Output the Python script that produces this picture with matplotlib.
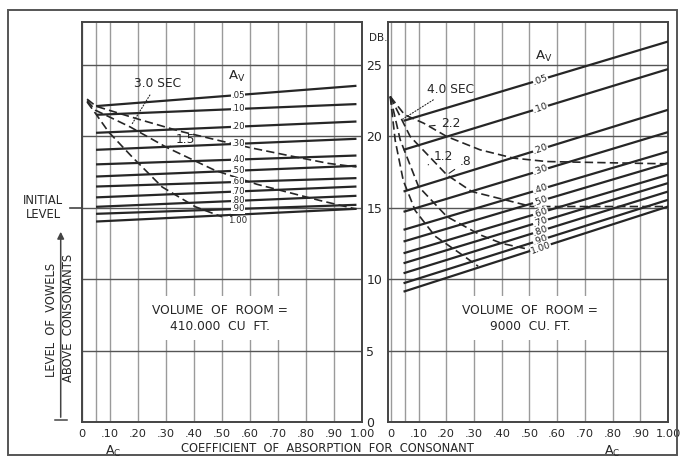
import matplotlib.pyplot as plt
import numpy as np
from matplotlib.lines import Line2D
from matplotlib.patches import Rectangle, FancyArrowPatch

plt.rcParams['font.family'] = 'DejaVu Sans'

INK = '#262626'
GRID = '#9a9a9a'

# Av values of the solid lines
av_labels = ['.05', '.10', '.20', '.30', '.40', '.50', '.60', '.70', '.80', '.90', '1.00']

# ---- room of 410,000 cu ft (left panel) ----
big_ac = [0.05, 0.98]
big_start = [22.11, 21.50, 20.24, 19.05, 18.03, 17.18, 16.48, 15.72, 15.06, 14.57, 14.03]
big_end = [23.53, 22.25, 21.03, 19.82, 18.65, 17.93, 17.07, 16.48, 15.83, 15.20, 14.92]

# dashed reverberation curves
big_c1_ac = [0.018, 0.05, 0.20, 0.35, 0.50, 0.60, 0.75, 0.88, 0.98]
big_c1_db = [22.6, 22.1, 21.2, 20.35, 19.65, 19.2, 18.6, 18.1, 17.85]
big_c2_ac = [0.018, 0.048, 0.172, 0.304, 0.476, 0.624, 0.85, 0.98]
big_c2_db = [22.5, 21.82, 20.65, 19.2, 17.6, 16.64, 15.5, 14.9]
big_c3_ac = [0.018, 0.048, 0.095, 0.179, 0.286, 0.405, 0.50]
big_c3_db = [22.4, 21.6, 20.3, 18.55, 16.45, 15.06, 14.36]

# ---- room of 9000 cu ft (right panel) ----
small_ac = [0.046, 1.0]
small_start = [21.08, 19.05, 16.13, 14.71, 13.45, 12.63, 11.81, 11.11, 10.41, 9.71, 9.12]
small_end = [26.63, 24.70, 21.85, 20.29, 18.93, 18.12, 17.30, 16.72, 16.13, 15.55, 15.08]

small_c1_ac = [-0.002, 0.05, 0.118, 0.202, 0.322, 0.442, 0.562, 0.742, 0.994]
small_c1_db = [22.78, 21.5, 20.92, 19.98, 19.05, 18.47, 18.23, 18.16, 18.07]
small_c2_ac = [-0.002, 0.07, 0.202, 0.292, 0.508, 1.0]
small_c2_db = [22.78, 19.98, 17.30, 16.13, 15.08, 15.08]
small_c3_ac = [-0.002, 0.034, 0.10, 0.202, 0.322, 0.40, 0.508]
small_c3_db = [22.78, 19.75, 16.48, 14.38, 13.10, 12.5, 12.04]
small_c4_ac = [-0.002, 0.016, 0.045, 0.088, 0.16, 0.25, 0.315]
small_c4_db = [22.78, 19.7, 16.9, 14.8, 13.0, 11.8, 10.9]

x_ticks = [0, 0.1, 0.2, 0.3, 0.4, 0.5, 0.6, 0.7, 0.8, 0.9, 1.0]
x_labels = ['0', '.10', '.20', '.30', '.40', '.50', '.60', '.70', '.80', '.90', '1.00']
y_ticks = [0, 5, 10, 15, 20, 25]

fig = plt.figure(figsize=(6.83, 4.63), dpi=100)
fig.patch.set_facecolor('white')

# outer frame
fig.patches.append(Rectangle((0.012, 0.017), 0.979, 0.961, transform=fig.transFigure,
                             fill=False, ec='#555555', lw=1.4))

ax1 = fig.add_axes([0.1201, 0.0886, 0.41, 0.864])
ax2 = fig.add_axes([0.5681, 0.0886, 0.41, 0.864])


def setup(ax, xmin):
    ax.set_xlim(xmin, 1.0)
    ax.set_ylim(0, 28)
    ax.set_xticks(x_ticks)
    ax.set_xticklabels(x_labels, fontsize=8.2, color=INK)
    ax.set_xticks([0.05], minor=True)
    ax.set_yticks(y_ticks)
    ax.tick_params(which='both', length=0, pad=5)
    ax.grid(axis='x', which='both', color=GRID, lw=1.0, zorder=0)
    ax.grid(axis='y', color='#555555', lw=1.0, zorder=0)
    for s in ax.spines.values():
        s.set_color('#444444')
        s.set_linewidth(1.4)


setup(ax1, 0.0)
setup(ax2, -0.01)

ax1.yaxis.tick_right()
ax1.set_yticklabels([str(v) for v in y_ticks], fontsize=9, color=INK)
ax1.tick_params(axis='y', pad=3)
ax2.set_yticklabels([])
ax1.text(1.025, 26.9, 'DB.', fontsize=7.5, color=INK, ha='left', va='center',
         transform=ax1.get_yaxis_transform())

dash = (0, (5, 2.5))


def draw_panel(ax, ac, start, end, curves, lab_x, rot, size):
    for i, (lab, a, b) in enumerate(zip(av_labels, start, end)):
        ax.plot(ac, [a, b], color=INK, lw=1.6, zorder=3, solid_capstyle='butt')
        yl = np.interp(lab_x, ac, [a, b])
        va = 'center'
        if rot == 0 and i == len(av_labels) - 1:
            # last label sits just under its line, as in the drawing
            va = 'top'
            yl -= 0.12
        ax.text(lab_x, yl, lab, fontsize=size, color=INK, ha='center', va=va,
                rotation=rot, rotation_mode='anchor', zorder=6,
                bbox=dict(boxstyle='square,pad=0.03', fc='white', ec='none'))
    for cx, cy in curves:
        ax.plot(cx, cy, color=INK, lw=1.2, ls=dash, zorder=4)


draw_panel(ax1, big_ac, big_start, big_end,
           [(big_c1_ac, big_c1_db), (big_c2_ac, big_c2_db), (big_c3_ac, big_c3_db)], 0.557, 0, 6.2)
draw_panel(ax2, small_ac, small_start, small_end,
           [(small_c1_ac, small_c1_db), (small_c2_ac, small_c2_db),
            (small_c3_ac, small_c3_db), (small_c4_ac, small_c4_db)], 0.54, 20, 6.8)

# Av headings
ax1.text(0.552, 24.2, 'A$_\\mathregular{V}$', fontsize=9.5, color=INK, ha='center', va='center')
ax2.text(0.55, 25.6, 'A$_\\mathregular{V}$', fontsize=9.5, color=INK, ha='center', va='center')

# reverberation time labels with leaders
lead = dict(arrowstyle='-', color=INK, lw=0.8, ls=':')
solid_lead = dict(arrowstyle='-', color=INK, lw=0.8)
ax1.annotate('3.0 SEC', xy=(0.172, 20.65), xytext=(0.268, 23.7), fontsize=8.8, color=INK,
             ha='center', va='center', arrowprops=lead, zorder=7)
ax1.annotate('1.5', xy=(0.304, 19.2), xytext=(0.37, 19.75), fontsize=8.8, color=INK,
             ha='center', va='center', arrowprops=solid_lead, zorder=7)
ax2.annotate('4.0 SEC', xy=(0.035, 21.1), xytext=(0.215, 23.3), fontsize=8.8, color=INK,
             ha='center', va='center', arrowprops=lead, zorder=7)
ax2.annotate('2.2', xy=(0.13, 20.7), xytext=(0.215, 20.86), fontsize=8.8, color=INK,
             ha='center', va='center', arrowprops=solid_lead, zorder=7)
ax2.annotate('1.2', xy=(0.135, 18.0), xytext=(0.19, 18.6), fontsize=8.8, color=INK,
             ha='center', va='center', arrowprops=solid_lead, zorder=7)
ax2.annotate('.8', xy=(0.202, 17.3), xytext=(0.27, 18.2), fontsize=8.8, color=INK,
             ha='center', va='center', arrowprops=solid_lead, zorder=7)

# room volume notes
box = dict(boxstyle='square,pad=0.6', fc='white', ec='none')
ax1.text(0.493, 7.26, 'VOLUME  OF  ROOM =\n410.000  CU  FT.', fontsize=8.8, color=INK,
         ha='center', va='center', linespacing=1.3, bbox=box, zorder=5)
ax2.text(0.502, 7.26, 'VOLUME  OF  ROOM =\n9000  CU. FT.', fontsize=8.8, color=INK,
         ha='center', va='center', linespacing=1.3, bbox=box, zorder=5)

# axis titles
fig.text(113 / 683, 1 - 451 / 463, 'A$_\\mathregular{C}$', fontsize=9, color=INK, ha='center', va='center')
fig.text(612 / 683, 1 - 451 / 463, 'A$_\\mathregular{C}$', fontsize=9, color=INK, ha='center', va='center')
fig.text(327 / 683, 1 - 449 / 463, 'COEFFICIENT  OF  ABSORPTION  FOR  CONSONANT', fontsize=8.3,
         color=INK, ha='center', va='center')

# initial level mark and vertical arrow on the left
fig.lines.append(Line2D([70 / 683, 82 / 683], [1 - 208 / 463] * 2, transform=fig.transFigure,
                        color='#444444', lw=1.2))
fig.text(43 / 683, 1 - 208 / 463, 'INITIAL\nLEVEL', fontsize=8.3, color=INK, ha='center', va='center',
         linespacing=1.1)
fig.patches.append(FancyArrowPatch(
    (60.7 / 683, 1 - 420 / 463), (60.7 / 683, 1 - 229 / 463), transform=fig.transFigure,
    arrowstyle='-|>,head_length=4,head_width=2', color='#444444', lw=1.1))
fig.lines.append(Line2D([55 / 683, 67 / 683], [1 - 420 / 463] * 2, transform=fig.transFigure,
                        color='#444444', lw=1.1))
fig.text(51.5 / 683, 1 - 320 / 463, 'LEVEL  OF  VOWELS', fontsize=8.3, color=INK, rotation=90,
         ha='center', va='center')
fig.text(69 / 683, 1 - 318 / 463, 'ABOVE  CONSONANTS', fontsize=8.3, color=INK, rotation=90,
         ha='center', va='center')

fig.savefig('out.png', dpi=100)
